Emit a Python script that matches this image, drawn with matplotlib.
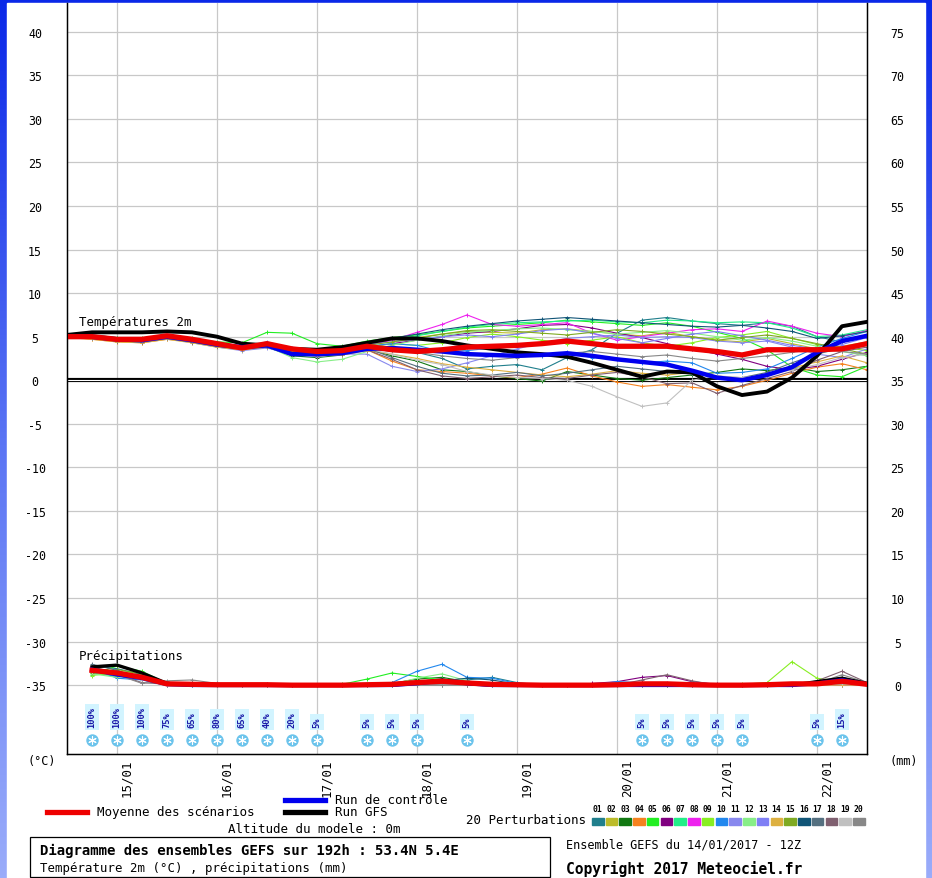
import numpy as np
import matplotlib
matplotlib.use('Agg')
import matplotlib.pyplot as plt
from matplotlib.lines import Line2D
from matplotlib.patches import Rectangle
from matplotlib.colors import LinearSegmentedColormap
from matplotlib.transforms import blended_transform_factory

plt.rcParams['font.family'] = ['DejaVu Sans Mono', 'DejaVu Sans']

W, H = 932, 879

# ---------------- data ----------------
hours = list(range(0, 193, 6))          # 33 steps, 14/01 12Z -> 22/01 12Z
precip_hours = hours[1:]                # 32 steps

date_labels = ['15/01', '16/01', '17/01', '18/01', '19/01', '20/01', '21/01', '22/01']
date_hours = [12, 36, 60, 84, 108, 132, 156, 180]

temp_ticks = [40, 35, 30, 25, 20, 15, 10, 5, 0, -5, -10, -15, -20, -25, -30, -35]
mm_labels = ['75', '70', '65', '60', '55', '50', '45', '40', '35', '30', '25', '20', '15', '10', '5', '0']

temp_mean = [5.0, 5.0, 4.7, 4.7, 5.1, 4.7, 4.2, 3.7, 4.2, 3.6, 3.3, 3.4, 3.9, 3.5, 3.3, 3.5, 3.8,
             3.9, 4.0, 4.2, 4.5, 4.2, 3.9, 3.9, 3.9, 3.6, 3.3, 2.9, 3.5, 3.5, 3.5, 3.6, 4.2]
temp_ctrl = [5.0, 5.0, 4.7, 4.6, 5.0, 4.6, 4.1, 3.8, 4.0, 3.0, 3.0, 3.1, 3.6, 3.7, 3.5, 3.3, 3.0,
             2.9, 2.8, 2.9, 3.1, 2.8, 2.4, 2.1, 1.8, 1.1, 0.3, 0.0, 0.6, 1.5, 3.2, 4.5, 5.1]
temp_gfs = [5.2, 5.5, 5.5, 5.5, 5.6, 5.5, 5.0, 4.2, 4.0, 3.6, 3.5, 3.8, 4.3, 4.8, 4.8, 4.5, 4.0,
            3.6, 3.2, 3.0, 2.7, 2.0, 1.2, 0.4, 1.0, 0.9, -0.7, -1.7, -1.3, 0.3, 2.8, 6.2, 6.7]

pert_temp = [
    [5.0, 5.1, 4.8, 4.6, 5.0, 4.6, 4.0, 3.6, 4.3, 3.4, 3.0, 3.1, 3.7, 3.3, 3.2, 2.5, 1.3, 1.6, 1.8, 1.2, 2.6, 3.5, 5.4, 6.9, 7.2, 6.8, 6.5, 6.3, 6.6, 6.2, 5.0, 4.4, 5.2],
    [5.1, 4.9, 4.6, 4.5, 4.8, 4.5, 4.1, 3.8, 4.0, 3.2, 3.0, 3.3, 4.2, 4.6, 4.9, 5.3, 5.6, 5.5, 5.4, 5.8, 5.9, 5.6, 5.3, 5.1, 5.5, 5.0, 4.6, 4.4, 4.8, 4.2, 3.6, 3.9, 4.4],
    [5.0, 4.8, 4.5, 4.4, 4.9, 4.4, 3.9, 3.5, 3.8, 2.8, 2.6, 2.9, 3.6, 2.8, 2.2, 1.2, 1.0, 0.5, 0.2, -0.1, 1.0, 0.6, 0.2, 0.0, 0.3, 0.6, 0.9, 1.3, 1.1, 1.5, 1.0, 1.2, 1.6],
    [5.0, 4.7, 4.4, 4.3, 4.7, 4.4, 3.9, 3.6, 3.9, 3.2, 3.1, 3.0, 3.5, 2.2, 1.2, 1.0, 0.8, 0.5, 0.3, 0.7, 1.4, 0.5, -0.2, -0.7, -0.5, -0.8, -1.1, -0.7, 0.0, 0.8, 1.5, 1.9, 1.2],
    [5.2, 5.2, 4.9, 4.8, 5.1, 4.8, 4.4, 4.3, 5.5, 5.4, 4.2, 3.9, 4.5, 4.9, 5.2, 5.6, 6.0, 6.2, 6.4, 6.6, 6.9, 6.7, 6.5, 6.3, 6.6, 6.2, 5.5, 4.8, 3.5, 1.5, 0.6, 0.4, 1.6],
    [5.0, 4.9, 4.6, 4.5, 4.9, 4.5, 4.0, 3.7, 4.2, 3.3, 3.0, 3.1, 3.8, 4.2, 4.6, 5.0, 5.4, 5.6, 5.9, 6.3, 6.4, 6.0, 5.4, 4.9, 4.2, 3.6, 3.0, 2.4, 1.6, 1.2, 1.6, 2.4, 3.2],
    [5.1, 5.0, 4.8, 4.6, 5.0, 4.6, 4.1, 3.9, 4.3, 3.6, 3.4, 3.6, 4.2, 4.7, 5.1, 5.6, 6.1, 6.4, 6.6, 6.7, 6.8, 6.9, 6.7, 6.6, 6.9, 6.8, 6.6, 6.7, 6.6, 6.0, 5.0, 5.2, 5.8],
    [5.0, 4.9, 4.6, 4.5, 4.9, 4.5, 4.1, 3.7, 4.1, 3.5, 3.3, 3.4, 4.0, 4.6, 5.5, 6.4, 7.5, 6.4, 6.2, 6.4, 6.6, 5.4, 4.6, 5.0, 5.4, 5.8, 5.9, 5.6, 6.8, 6.2, 5.4, 5.0, 5.7],
    [5.0, 4.8, 4.5, 4.4, 4.8, 4.4, 3.9, 3.6, 4.0, 3.1, 2.9, 3.0, 3.8, 4.2, 4.0, 4.3, 4.9, 5.3, 5.0, 4.6, 4.2, 4.6, 5.0, 4.3, 3.9, 4.3, 4.9, 5.2, 5.6, 4.8, 4.1, 3.8, 3.4],
    [5.0, 4.9, 4.6, 4.5, 4.9, 4.6, 4.2, 3.8, 4.1, 3.3, 3.0, 3.2, 3.9, 4.2, 4.0, 3.3, 3.4, 3.7, 3.1, 2.8, 3.2, 2.6, 2.4, 2.0, 2.2, 2.0, 0.8, 0.9, 1.3, 2.5, 3.8, 4.8, 5.6],
    [5.0, 4.8, 4.5, 4.4, 4.8, 4.3, 3.8, 3.4, 3.7, 3.0, 2.7, 3.0, 3.0, 1.6, 1.0, 1.3, 2.0, 2.8, 3.6, 4.3, 4.8, 5.0, 5.2, 4.9, 5.0, 4.9, 4.5, 4.3, 4.5, 3.8, 3.0, 2.6, 3.6],
    [5.0, 4.9, 4.6, 4.4, 4.8, 4.4, 3.9, 3.5, 3.9, 2.6, 2.1, 2.4, 3.3, 4.0, 4.6, 5.1, 5.5, 5.7, 5.9, 6.0, 5.8, 5.6, 5.3, 5.5, 5.7, 5.4, 5.0, 4.6, 4.9, 4.5, 3.9, 3.3, 2.8],
    [5.1, 5.0, 4.7, 4.6, 5.0, 4.7, 4.2, 3.9, 4.4, 3.7, 3.4, 3.5, 4.1, 4.4, 4.7, 5.0, 5.2, 5.0, 5.3, 5.7, 5.9, 5.4, 4.8, 4.3, 4.8, 5.3, 5.6, 5.1, 4.6, 4.0, 3.6, 4.1, 4.9],
    [4.9, 4.7, 4.4, 4.3, 4.7, 4.3, 3.8, 3.5, 3.8, 3.0, 2.8, 2.9, 3.4, 3.0, 2.5, 1.9, 1.5, 1.2, 0.9, 0.6, 0.4, 0.7, 1.1, 0.8, 0.6, 0.9, 0.5, 0.2, 0.6, 1.4, 2.1, 2.8, 2.0],
    [5.0, 4.8, 4.6, 4.5, 4.9, 4.5, 4.0, 3.7, 4.1, 3.4, 3.2, 3.4, 4.0, 4.4, 4.8, 5.3, 5.7, 5.8, 5.6, 5.4, 5.2, 5.5, 5.8, 5.6, 5.3, 5.0, 4.6, 4.9, 5.2, 4.8, 4.2, 3.6, 3.0],
    [5.1, 5.0, 4.7, 4.6, 5.0, 4.7, 4.2, 3.9, 4.2, 3.5, 3.3, 3.6, 4.3, 4.8, 5.3, 5.8, 6.2, 6.5, 6.8, 7.0, 7.2, 7.0, 6.8, 6.6, 6.4, 6.2, 6.1, 6.3, 6.0, 5.6, 4.8, 5.1, 5.6],
    [5.0, 4.8, 4.5, 4.4, 4.8, 4.4, 3.9, 3.6, 3.9, 3.1, 2.9, 3.1, 3.7, 2.6, 1.6, 0.8, 0.5, 0.6, 0.9, 0.5, 0.8, 1.2, 1.6, 1.3, 1.0, 0.7, 0.4, 0.3, 0.9, 2.0, 3.0, 3.7, 4.1],
    [5.0, 4.8, 4.5, 4.4, 4.8, 4.4, 3.9, 3.6, 3.9, 3.0, 2.8, 3.0, 3.5, 2.4, 1.2, 0.5, 0.2, 0.4, 0.6, 0.3, 0.2, 0.6, 0.9, 0.4, -0.4, -0.3, -1.5, -0.6, 0.2, 1.0, 2.3, 3.3, 3.8],
    [5.0, 4.9, 4.6, 4.5, 4.9, 4.5, 4.0, 3.7, 4.0, 3.1, 3.0, 3.2, 3.6, 3.0, 2.3, 1.8, 1.0, 0.6, 0.3, 0.2, 0.0, -0.7, -1.9, -3.0, -2.6, 0.0, 0.5, 0.3, 0.6, 1.2, 1.8, 2.6, 3.0],
    [5.0, 4.8, 4.6, 4.5, 4.9, 4.5, 4.0, 3.7, 4.0, 3.2, 3.0, 3.2, 3.7, 3.5, 3.2, 2.8, 2.5, 2.3, 2.6, 2.9, 3.1, 3.3, 3.0, 2.7, 2.9, 2.5, 2.2, 2.5, 2.8, 3.2, 3.6, 3.3, 3.0],
]

precip_mean = [1.7, 1.4, 0.9, 0.15, 0.1, 0.05, 0.05, 0.05, 0.0, 0.0, 0.0, 0.05, 0.1, 0.3, 0.45, 0.25,
               0.1, 0.05, 0.0, 0.0, 0.0, 0.05, 0.15, 0.15, 0.05, 0.0, 0.0, 0.05, 0.15, 0.15, 0.45, 0.1]
precip_ctrl = [1.8, 1.2, 0.8, 0.1, 0, 0, 0, 0, 0, 0, 0, 0, 0, 0.2, 0.5, 0.2,
               0, 0, 0, 0, 0, 0, 0, 0, 0, 0, 0, 0, 0, 0.2, 0.6, 0.1]
precip_gfs = [2.1, 2.3, 1.4, 0.2, 0, 0, 0, 0, 0, 0, 0, 0, 0, 0.3, 0.6, 0.2,
              0, 0, 0, 0, 0, 0, 0, 0, 0, 0, 0, 0, 0, 0.4, 0.8, 0.2]

pert_precip = [
    [2.2, 1.9, 1.2, 0.2, 0, 0, 0, 0, 0, 0, 0, 0, 0, 0, 0.2, 0.6, 0.9, 0.3, 0, 0, 0, 0, 0, 0, 0, 0, 0, 0, 0, 0, 0.3, 0],
    [1.8, 1.5, 1.0, 0.1, 0, 0, 0, 0, 0, 0, 0, 0, 0, 0.3, 0.4, 0.1, 0, 0, 0, 0, 0, 0, 0, 0, 0, 0, 0, 0, 0, 0, 0.2, 0],
    [1.9, 2.3, 1.4, 0.2, 0, 0, 0, 0, 0, 0, 0, 0, 0.2, 0.7, 0.9, 0.4, 0, 0, 0, 0, 0, 0, 0, 0, 0, 0, 0, 0, 0, 0.2, 0.3, 0],
    [1.5, 1.2, 0.8, 0.1, 0, 0, 0, 0, 0, 0, 0, 0, 0, 0.2, 0.3, 0, 0, 0, 0, 0, 0, 0.2, 0.3, 0.1, 0, 0, 0, 0, 0, 0, 0, 0],
    [1.2, 2.2, 1.6, 0.2, 0, 0, 0, 0, 0, 0, 0.1, 0.7, 1.4, 1.0, 0.6, 0.2, 0, 0, 0, 0, 0, 0, 0, 0, 0, 0, 0, 0, 0, 0, 0, 0],
    [1.6, 1.1, 0.7, 0.0, 0, 0, 0, 0.1, 0, 0, 0, 0, 0, 0, 0, 0, 0, 0, 0, 0, 0.2, 0.4, 0.9, 1.1, 0.4, 0.1, 0, 0, 0, 0, 0.3, 0],
    [1.4, 1.0, 0.9, 0.1, 0, 0, 0, 0, 0, 0, 0, 0, 0, 0.3, 0.7, 0.3, 0, 0, 0, 0, 0, 0, 0, 0, 0, 0, 0, 0, 0, 0, 0, 0],
    [1.7, 1.3, 0.8, 0.1, 0, 0, 0, 0, 0, 0, 0, 0, 0, 0, 0.2, 0, 0, 0, 0, 0, 0, 0, 0.3, 0.2, 0, 0, 0, 0, 0, 0, 0, 0],
    [1.1, 1.5, 1.5, 0.1, 0, 0, 0, 0, 0, 0, 0, 0, 0, 0, 0, 0, 0, 0, 0, 0, 0, 0, 0, 0, 0, 0, 0.1, 0.3, 2.7, 0.8, 0.4, 0.1],
    [2.0, 0.8, 0.6, 0.0, 0, 0, 0, 0, 0, 0, 0, 0, 0.3, 1.6, 2.4, 0.9, 0.8, 0.2, 0, 0, 0, 0.4, 0.3, 0, 0, 0, 0, 0, 0, 0.2, 0.6, 0.1],
    [1.9, 1.4, 1.0, 0.0, 0, 0, 0, 0, 0, 0, 0, 0, 0, 0, 0.3, 0.2, 0, 0, 0, 0, 0, 0, 0, 0, 0, 0, 0, 0, 0, 0.3, 0.8, 0.1],
    [1.3, 0.9, 1.2, 0.1, 0, 0, 0, 0, 0, 0, 0, 0, 0.1, 0.8, 1.3, 0.5, 0, 0, 0, 0, 0, 0, 0, 0, 0, 0, 0, 0, 0, 0, 0.2, 0],
    [1.5, 1.3, 0.9, 0.0, 0, 0, 0, 0, 0, 0, 0, 0, 0, 0, 0.2, 0, 0, 0, 0, 0, 0, 0, 0, 0, 0, 0, 0, 0, 0, 0.2, 0.7, 0.2],
    [1.6, 1.6, 1.0, 0.1, 0, 0, 0, 0, 0, 0, 0, 0, 0, 0.2, 0.3, 0, 0, 0, 0, 0, 0, 0, 0, 0, 0, 0, 0, 0, 0, 0, 0, 0],
    [1.4, 1.8, 1.3, 0.1, 0, 0, 0, 0, 0, 0, 0, 0, 0, 0.4, 0.6, 0.2, 0, 0, 0, 0, 0, 0, 0, 0, 0, 0, 0, 0, 0, 0.3, 0.4, 0],
    [2.1, 1.4, 0.9, 0.0, 0, 0, 0, 0, 0, 0, 0, 0, 0, 0.2, 0.5, 0.8, 0.6, 0.1, 0, 0, 0, 0, 0, 0, 0, 0, 0, 0, 0, 0.4, 0.9, 0.2],
    [2.4, 1.7, 0.7, 0.0, 0, 0, 0, 0, 0, 0, 0, 0, 0, 0, 0.2, 0.1, 0, 0, 0, 0, 0, 0.1, 0.2, 0.1, 0, 0, 0, 0, 0, 0.3, 0.7, 0.1],
    [1.8, 1.2, 0.3, 0.1, 0, 0, 0, 0, 0, 0, 0, 0, 0, 0, 0, 0, 0, 0, 0, 0, 0, 0, 0.6, 1.2, 0.5, 0, 0, 0, 0, 0.5, 1.6, 0.3],
    [1.5, 1.3, 0.6, 0.0, 0, 0, 0, 0, 0, 0, 0, 0, 0, 0, 0, 0, 0, 0, 0, 0, 0, 0, 0, 0, 0, 0, 0, 0, 0, 0, 0.2, 0],
    [1.7, 1.2, 0.2, 0.5, 0.6, 0.2, 0, 0, 0, 0, 0, 0, 0, 0, 0, 0, 0, 0, 0, 0, 0, 0, 0, 0, 0, 0, 0, 0, 0, 0.2, 1.2, 0.3],
]

pert_colors = ['#207f8c', '#bcbc2a', '#127812', '#f5821f', '#22ee22', '#800080', '#22ee88',
               '#ee22ee', '#88ee22', '#2288ee', '#8888ee', '#88ee88', '#7f7ff5', '#ddb040',
               '#7faa22', '#115577', '#557080', '#806070', '#c0c0c0', '#888888']
pert_numbers = ['01', '02', '03', '04', '05', '06', '07', '08', '09', '10',
                '11', '12', '13', '14', '15', '16', '17', '18', '19', '20']

snow_hours = [6, 12, 18, 24, 30, 36, 42, 48, 54, 60, 72, 78, 84, 96, 138, 144, 150, 156, 162, 180, 186]
snow_pct = [100, 100, 100, 75, 65, 80, 65, 40, 20, 5, 5, 5, 5, 5, 5, 5, 5, 5, 5, 5, 15]

# ---------------- figure ----------------
fig = plt.figure(figsize=(W / 100, H / 100), dpi=100)


def fx(x):
    return x / W


def fy(y):
    return 1 - y / H


bg = fig.add_axes([0, 0, 1, 1], zorder=-10)
grad = np.linspace(0, 1, 256).reshape(-1, 1)
cmap = LinearSegmentedColormap.from_list('border', ['#0a28e8', '#5a74f4', '#9aacfa'])
bg.imshow(grad, aspect='auto', cmap=cmap, extent=[0, 1, 0, 1], origin='upper')
bg.add_patch(Rectangle((fx(7), 0), fx(918), 1 - 4 / H, color='white'))
bg.set_xlim(0, 1)
bg.set_ylim(0, 1)
bg.axis('off')

YMIN, YMAX = -42.9, 43.3
ax = fig.add_axes([fx(67), fy(755), fx(800), 751 / H])
ax.set_xlim(0, 192)
ax.set_ylim(YMIN, YMAX)
ax.set_facecolor('white')
ax.set_axisbelow(True)
ax.set_xticks(date_hours)
ax.set_xticklabels([])
ax.set_yticks(temp_ticks)
ax.set_yticklabels([str(t) for t in temp_ticks], fontsize=8.4)
ax.tick_params(axis='both', length=0)
ax.tick_params(axis='y', pad=23)
for lab in ax.get_yticklabels():
    lab.set_horizontalalignment('center')
ax.grid(True, color='#c8c8c8', lw=0.9)
ax.spines['top'].set_visible(False)
for s in ['left', 'right', 'bottom']:
    ax.spines[s].set_linewidth(1.0)

ax2 = ax.twinx()
ax2.set_ylim(YMIN + 35, YMAX + 35)
ax2.set_yticks([t + 35 for t in temp_ticks])
ax2.set_yticklabels(mm_labels, fontsize=8.4)
ax2.tick_params(axis='y', length=0, pad=22)
for lab in ax2.get_yticklabels():
    lab.set_horizontalalignment('center')
ax2.spines['top'].set_visible(False)

# 0 degC double line
ax.axhline(0, color='black', lw=3.0, zorder=1.5)
ax.axhline(0, color='white', lw=0.8, zorder=1.6)

# temperature spaghetti
for vals, c in zip(pert_temp, pert_colors):
    ax.plot(hours, vals, color=c, lw=0.8, marker='+', ms=3.5, mew=0.7, zorder=2)
ax.plot(hours, temp_gfs, color='black', lw=2.8, zorder=3)
ax.plot(hours, temp_ctrl, color='#0000ee', lw=3.2, zorder=3.1)
ax.plot(hours, temp_mean, color='#ee0000', lw=3.8, zorder=3.2)

# precipitation spaghetti (right axis, mm)
for vals, c in zip(pert_precip, pert_colors):
    ax2.plot(precip_hours, vals, color=c, lw=0.8, marker='+', ms=3.5, mew=0.7, zorder=2)
ax2.plot(precip_hours, precip_gfs, color='black', lw=2.4, zorder=3)
ax2.plot(precip_hours, precip_ctrl, color='#0000ee', lw=2.8, zorder=3.1)
ax2.plot(precip_hours, precip_mean, color='#ee0000', lw=3.8, zorder=3.2)

ax.text(2.9, 6.7, 'Températures 2m', fontsize=8.9, ha='left', va='center', zorder=6)
ax.text(2.9, -31.55, 'Précipitations', fontsize=8.9, ha='left', va='center', zorder=6)

# snow probability markers
ax2.scatter(snow_hours, [-41.3 + 35] * len(snow_hours), s=80, color='#6cc4ec', zorder=5, lw=0)
ax2.scatter(snow_hours, [-41.3 + 35] * len(snow_hours), s=30, marker=(6, 2, 0), color='white',
            lw=0.8, zorder=6)
for h, p in zip(snow_hours, snow_pct):
    ax2.text(h, -39.85 + 35, f'{p}%', rotation=90, ha='center', va='bottom', fontsize=6.3,
             fontweight='bold', color='#1818a8', zorder=6,
             bbox=dict(boxstyle='square,pad=0.3', fc='#d2f4ff', ec='none'))

# date labels
trans = blended_transform_factory(ax.transData, ax.transAxes)
for h, lab in zip(date_hours, date_labels):
    ax.text(h + 2.4, -0.006, lab, transform=trans, rotation=90, ha='center', va='top', fontsize=9)

fig.text(fx(42), fy(762), '(°C)', ha='center', va='center', fontsize=8.6)
fig.text(fx(904), fy(762), '(mm)', ha='center', va='center', fontsize=8.6)

# legend
fig.add_artist(Line2D([fx(47), fx(87)], [fy(813), fy(813)], color='#ee0000', lw=3.8))
fig.text(fx(97), fy(813), 'Moyenne des scénarios', ha='left', va='center', fontsize=9)
fig.add_artist(Line2D([fx(285), fx(325)], [fy(801), fy(801)], color='#0000ee', lw=3.8))
fig.text(fx(335), fy(801), 'Run de contrôle', ha='left', va='center', fontsize=9)
fig.add_artist(Line2D([fx(285), fx(325)], [fy(813), fy(813)], color='black', lw=3.8))
fig.text(fx(335), fy(813), 'Run GFS', ha='left', va='center', fontsize=9)
fig.text(fx(314), fy(830), 'Altitude du modele : 0m', ha='center', va='center', fontsize=9)
fig.text(fx(586), fy(821), '20 Perturbations', ha='right', va='center', fontsize=9)
for k, (c, n) in enumerate(zip(pert_colors, pert_numbers)):
    x0 = 592 + k * 13.74
    fig.add_artist(Rectangle((fx(x0), fy(826)), fx(11.5), 7 / H, color=c, transform=fig.transFigure))
    fig.text(fx(x0 + 5.75), fy(810), n, ha='center', va='center', fontsize=5.8, fontweight='bold')

# bottom information boxes
fig.add_artist(Rectangle((fx(30), fy(878)), fx(520), 40 / H, fill=False, ec='black', lw=0.9,
                         transform=fig.transFigure))
fig.text(fx(40), fy(851), 'Diagramme des ensembles GEFS sur 192h : 53.4N 5.4E', ha='left', va='center',
         fontsize=10.1, fontweight='bold')
fig.text(fx(40), fy(869), 'Température 2m (°C) , précipitations (mm)', ha='left', va='center', fontsize=8.9)
fig.text(fx(566), fy(845), 'Ensemble GEFS du 14/01/2017 - 12Z', ha='left', va='center', fontsize=8.5)
fig.text(fx(566), fy(869), 'Copyright 2017 Meteociel.fr', ha='left', va='center', fontsize=10.5,
         fontweight='bold')

fig.savefig('out.png', dpi=100)
